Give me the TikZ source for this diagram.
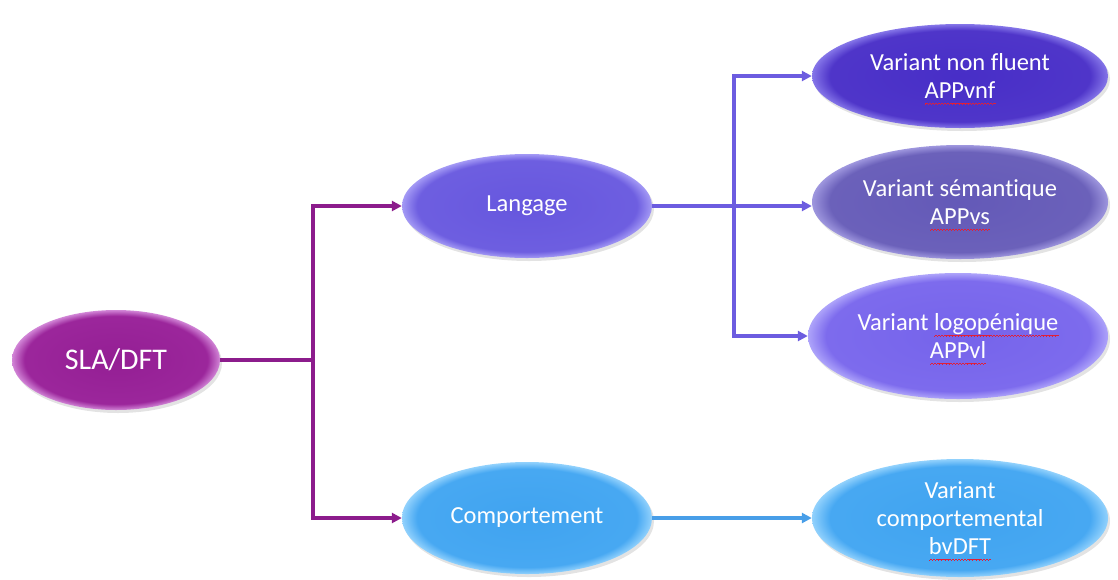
\documentclass[tikz,border=0pt]{standalone}
\usepackage{fontspec}
\setmainfont{Carlito}[Ligatures={NoCommon}]
\usetikzlibrary{shapes.geometric,shadows,arrows.meta}

% red wavy spell-check underline, built from tiny staircase rules
\newcommand\wavecell{\rule[0pt]{0.75pt}{0.7pt}\rule[0.55pt]{0.75pt}{0.7pt}\rule[1.1pt]{0.75pt}{0.7pt}\rule[0.55pt]{0.75pt}{0.7pt}}
\newcommand\spellwave[1]{\setbox0=\hbox{#1}\rlap{\copy0}%
  \raisebox{-6pt}[0pt][0pt]{\textcolor[rgb]{0.88,0.12,0.22}{\hbox to \wd0{\xleaders\hbox{\wavecell}\hfil}}}}

% glossy bevel shadings: flat centre, lighter rim
\pgfdeclareradialshading{bevelSLA}{\pgfpoint{0bp}{0bp}}{rgb(0bp)=(0.58,0.12,0.58); rgb(22bp)=(0.61,0.15,0.61); rgb(25bp)=(0.82,0.52,0.84); rgb(50bp)=(0.82,0.52,0.84)}
\pgfdeclareradialshading{bevelLang}{\pgfpoint{0bp}{0bp}}{rgb(0bp)=(0.40,0.34,0.87); rgb(22bp)=(0.43,0.37,0.88); rgb(25bp)=(0.64,0.60,0.96); rgb(50bp)=(0.64,0.60,0.96)}
\pgfdeclareradialshading{bevelVnf}{\pgfpoint{0bp}{0bp}}{rgb(0bp)=(0.28,0.18,0.78); rgb(22bp)=(0.31,0.21,0.79); rgb(25bp)=(0.52,0.46,0.91); rgb(50bp)=(0.52,0.46,0.91)}
\pgfdeclareradialshading{bevelVs}{\pgfpoint{0bp}{0bp}}{rgb(0bp)=(0.39,0.35,0.72); rgb(22bp)=(0.42,0.38,0.73); rgb(25bp)=(0.62,0.59,0.87); rgb(50bp)=(0.62,0.59,0.87)}
\pgfdeclareradialshading{bevelVl}{\pgfpoint{0bp}{0bp}}{rgb(0bp)=(0.46,0.39,0.92); rgb(22bp)=(0.49,0.42,0.93); rgb(25bp)=(0.68,0.64,0.98); rgb(50bp)=(0.68,0.64,0.98)}
\pgfdeclareradialshading{bevelComp}{\pgfpoint{0bp}{0bp}}{rgb(0bp)=(0.25,0.64,0.94); rgb(22bp)=(0.28,0.66,0.95); rgb(25bp)=(0.57,0.82,0.99); rgb(50bp)=(0.57,0.82,0.99)}

\definecolor{purpLine}{RGB}{140,28,140}
\definecolor{langLine}{RGB}{108,92,224}
\definecolor{compLine}{RGB}{72,158,232}

\begin{document}
\begin{tikzpicture}[x=1pt,y=-1pt,
  bubble/.style={ellipse, inner sep=0pt, align=center, text=white,
    font=\fontsize{24.5}{28}\selectfont,
    drop shadow={opacity=0.22,shadow xshift=2pt,shadow yshift=-3pt}},
  link/.style={line width=3.4pt},
  tip/.style={-{Triangle[length=10pt,width=10pt]}}]
\useasboundingbox (0,0) rectangle (1118,579);

% ---- nodes ----
\node[bubble, shading=bevelSLA, minimum width=208pt, minimum height=100pt,
      font=\fontsize{30}{34}\selectfont] (sla) at (116,360) {SLA/DFT};
\node[bubble, shading=bevelLang, minimum width=250pt, minimum height=104pt] (lang) at (527,206) {Langage};
\node[bubble, shading=bevelComp, minimum width=250pt, minimum height=112pt] (comp) at (527,518) {Comportement};

\node[bubble, shading=bevelVnf, minimum width=296pt, minimum height=104pt] (vnf) at (960,76) {Variant non f\kern0pt luent\\\spellwave{APPvnf}};
\node[bubble, shading=bevelVs, minimum width=296pt, minimum height=114pt] (vs) at (960,202) {Variant sémant\kern0pt ique\\\spellwave{APPvs}};
\node[bubble, shading=bevelVl, minimum width=300pt, minimum height=126pt] (vl) at (958,336) {Variant \spellwave{logopénique}\\\spellwave{APPvl}};
\node[bubble, shading=bevelComp, minimum width=296pt, minimum height=118pt] (vc) at (960,518) {Variant\\comportemental\\\spellwave{bvDFT}};

% ---- connectors ----
\coordinate (j1) at (313,360);
\draw[link, purpLine] (sla.east) -- (j1);
\draw[link, purpLine, tip] (j1) |- (lang.west);
\draw[link, purpLine, tip] (j1) |- (comp.west);

\coordinate (j2) at (lang.east -| 734,0);
\draw[link, langLine] (lang.east) -- (j2);
\draw[link, langLine, tip] (j2) -- (j2 -| vs.west);
\draw[link, langLine, tip] (j2) |- (vnf.west);
\draw[link, langLine, tip] (j2) |- (vl.west);

\draw[link, compLine, tip] (comp.east) -- (vc.west);
\end{tikzpicture}
\end{document}
